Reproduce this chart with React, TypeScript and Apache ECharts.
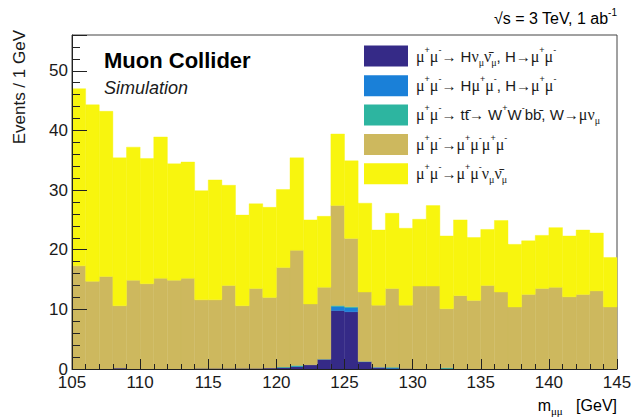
import React, { useEffect, useRef } from "react";
import * as echarts from "echarts";

// Lower edges of the 1 GeV bins
const BIN_LOW = [
  105, 106, 107, 108, 109, 110, 111, 112, 113, 114,
  115, 116, 117, 118, 119, 120, 121, 122, 123, 124,
  125, 126, 127, 128, 129, 130, 131, 132, 133, 134,
  135, 136, 137, 138, 139, 140, 141, 142, 143, 144,
];
const BIN_WIDTH = 1;

// mu+mu- -> H nu nu, H -> mu mu
const HVV = [
  0, 0, 0, 0.15, 0, 0, 0, 0, 0, 0.1,
  0.1, 0.1, 0.1, 0.1, 0.15, 0.25, 0.4, 0.7, 1.6, 9.8,
  9.6, 1.2, 0.2, 0.1, 0.05, 0, 0, 0.05, 0, 0,
  0, 0, 0, 0, 0, 0, 0, 0, 0, 0,
];
// mu+mu- -> H mu mu, H -> mu mu
const HMUMU = [
  0, 0, 0, 0, 0, 0, 0, 0, 0, 0,
  0, 0, 0, 0, 0, 0, 0.05, 0, 0.05, 0.7,
  0.7, 0.05, 0.1, 0.1, 0, 0, 0, 0, 0, 0,
  0, 0, 0, 0, 0, 0, 0, 0, 0, 0,
];
// mu+mu- -> ttbar
const TTBAR = [
  0, 0, 0, 0, 0, 0, 0, 0, 0, 0,
  0, 0, 0, 0, 0, 0.1, 0.15, 0, 0, 0.15,
  0.15, 0, 0, 0.1, 0, 0, 0, 0.15, 0, 0,
  0, 0, 0, 0, 0, 0, 0, 0, 0, 0,
];
// mu+mu- -> 4 mu
const MU4 = [
  17.3, 14.7, 15.5, 10.45, 14.9, 14.3, 15.2, 14.9, 15.2, 11.5,
  11.5, 13.9, 10.5, 13.4, 11.85, 16.65, 19.3, 10.2, 12.05, 16.75,
  11.45, 11.65, 10.4, 13.2, 10.65, 13.9, 13.9, 9.9, 12.3, 11.5,
  14.0, 12.9, 10.4, 12.5, 13.5, 13.7, 12.1, 12.5, 13.1, 10.4,
];
// mu+mu- -> mu mu nu nu
const MUMUNUNU = [
  29.7, 29.6, 27.7, 24.8, 22.3, 21.0, 23.7, 19.5, 19.5, 18.3,
  20.1, 16.8, 15.2, 14.2, 15.1, 13.1, 15.5, 14.1, 11.9, 12.0,
  13.0, 14.9, 12.6, 12.6, 12.9, 11.2, 13.5, 12.2, 12.7, 10.55,
  9.4, 12.0, 10.5, 9.0, 8.9, 10.0, 10.2, 10.8, 9.7, 8.3,
];

const SERIES_KEYS = ["hvv", "hmumu", "ttbar", "mu4", "mumununu"];
const SERIES_VALUES = [HVV, HMUMU, TTBAR, MU4, MUMUNUNU];
const SERIES_COLORS = ["#352a87", "#1a80d8", "#2db5a0", "#cdb85e", "#f8f50e"];
const LEGEND_LABELS = [
  "μ^+μ^-→ Hν_μν\u0304_μ, H→μ^+μ^-",
  "μ^+μ^-→ Hμ^+μ^-, H→μ^+μ^-",
  "μ^+μ^-→ tt\u0304→ W^+W^-bb\u0304, W→μν_μ",
  "μ^+μ^-→μ^+μ^-μ^+μ^-",
  "μ^+μ^-→μ^+μ^-ν_μν\u0304_μ",
];

const SANS = '"Liberation Sans", Arial, Helvetica, sans-serif';
const SERIF = '"Liberation Serif", "Times New Roman", serif';
const TEXT = "#1a1a1a";

const isGreek = (c: string) => c === "μ" || c === "ν";

function toRich(s: string): string {
  const chars = Array.from(s);
  let out = "";
  for (let i = 0; i < chars.length; i++) {
    const c = chars[i];
    if (c === "^" || c === "_") {
      const nxt = chars[++i];
      const base = c === "^" ? "p" : "b";
      out += `{${base}${isGreek(nxt) ? "g" : ""}|${nxt}}`;
      continue;
    }
    if (isGreek(c)) {
      let g = c;
      if (chars[i + 1] === "\u0304") g += chars[++i];
      out += `{g|${g}}`;
      continue;
    }
    out += `{n|${c}}`;
  }
  return out;
}

const RICH: any = {
  n: { fontFamily: SANS, fontSize: 15, color: TEXT, lineHeight: 22 },
  g: { fontFamily: SERIF, fontSize: 16, color: TEXT, lineHeight: 22 },
  p: { fontFamily: SANS, fontSize: 9, color: TEXT, lineHeight: 18, verticalAlign: "top" },
  pg: { fontFamily: SERIF, fontSize: 10, color: TEXT, lineHeight: 18, verticalAlign: "top" },
  b: { fontFamily: SANS, fontSize: 9, color: TEXT, lineHeight: 10, verticalAlign: "bottom" },
  bg: { fontFamily: SERIF, fontSize: 10, color: TEXT, lineHeight: 10, verticalAlign: "bottom" },
};

const RICH_TITLE: any = {
  n: { fontFamily: SANS, fontSize: 16, color: TEXT, lineHeight: 22 },
  g: { fontFamily: SERIF, fontSize: 17, color: TEXT, lineHeight: 22 },
  p: { fontFamily: SANS, fontSize: 10, color: TEXT, lineHeight: 14, verticalAlign: "top" },
  bg: { fontFamily: SERIF, fontSize: 11, color: TEXT, lineHeight: 10, verticalAlign: "bottom" },
};

export default function App() {
  const ref = useRef<HTMLDivElement>(null);

  useEffect(() => {
    document.body.style.margin = "0";
    if (!ref.current) return;
    const chart = echarts.init(ref.current, undefined, { renderer: "svg" });

    // running stack base per bin
    const base = BIN_LOW.map(() => 0);
    const series = SERIES_KEYS.map((key, si) => {
      const color = SERIES_COLORS[si];
      const data = SERIES_VALUES[si].map((v, i) => {
        const lo = base[i];
        const hi = lo + v;
        base[i] = hi;
        return [BIN_LOW[i], BIN_LOW[i] + BIN_WIDTH, lo, hi];
      });
      return {
        name: key,
        type: "custom",
        itemStyle: { color },
        emphasis: { disabled: true },
        encode: { x: [0, 1], y: [2, 3] },
        renderItem: (params: any, api: any) => {
          const lo = api.value(2);
          const hi = api.value(3);
          if (!(hi > lo)) return null;
          const p0 = api.coord([api.value(0), hi]);
          const p1 = api.coord([api.value(1), lo]);
          return {
            type: "rect",
            shape: { x: p0[0], y: p0[1], width: p1[0] - p0[0], height: p1[1] - p0[1] },
            style: { fill: color, stroke: color, lineWidth: 0.4 },
          };
        },
        data,
      };
    });

    chart.setOption({
      animation: false,
      backgroundColor: "#ffffff",
      grid: {
        left: 72,
        right: 18,
        top: 35,
        bottom: 48,
        show: true,
        borderColor: "#444",
        borderWidth: 1,
        backgroundColor: "transparent",
        containLabel: false,
      },
      xAxis: {
        type: "value",
        min: 105,
        max: 145,
        interval: 5,
        z: 10,
        axisLine: { show: true, onZero: false, lineStyle: { color: "#222", width: 1 } },
        axisTick: { show: true, inside: true, length: 10, lineStyle: { color: "#222" } },
        minorTick: { show: true, splitNumber: 5, length: 5, lineStyle: { color: "#222" } },
        splitLine: { show: false },
        minorSplitLine: { show: false },
        axisLabel: { color: TEXT, fontFamily: SANS, fontSize: 17, margin: 5 },
      },
      yAxis: {
        type: "value",
        min: 0,
        max: 56,
        interval: 10,
        z: 10,
        axisLine: { show: true, lineStyle: { color: "#222", width: 1 } },
        axisTick: { show: true, inside: true, length: 15, lineStyle: { color: "#222" } },
        minorTick: { show: true, splitNumber: 5, length: 8, lineStyle: { color: "#222" } },
        splitLine: { show: false },
        minorSplitLine: { show: false },
        axisLabel: {
          color: TEXT,
          fontFamily: SANS,
          fontSize: 17,
          margin: 4,
          showMaxLabel: false,
        },
      },
      legend: {
        data: SERIES_KEYS,
        orient: "vertical",
        left: 364,
        top: 45,
        itemWidth: 44,
        itemHeight: 21,
        itemGap: 7.7,
        icon: "rect",
        selectedMode: false,
        padding: 0,
        formatter: (name: string) => toRich(LEGEND_LABELS[SERIES_KEYS.indexOf(name)]),
        textStyle: { rich: RICH, padding: [0, 0, 0, 3] },
      },
      graphic: [
        {
          type: "text",
          x: 104,
          y: 60,
          style: {
            text: "Muon Collider",
            font: `bold 22px ${SANS}`,
            fill: "#000",
            align: "left",
            verticalAlign: "middle",
          },
        },
        {
          type: "text",
          x: 104,
          y: 88,
          style: {
            text: "Simulation",
            font: `italic 18px ${SANS}`,
            fill: TEXT,
            align: "left",
            verticalAlign: "middle",
          },
        },
        {
          type: "text",
          x: 617,
          y: 18,
          style: {
            text: "{n|√s = 3 TeV, 1 ab}{p|-1}",
            rich: RICH_TITLE,
            align: "right",
            verticalAlign: "middle",
          },
        },
        {
          type: "text",
          x: 617,
          y: 405,
          style: {
            text: "{n|m}{bg|μμ}{n|   [GeV]}",
            rich: RICH_TITLE,
            align: "right",
            verticalAlign: "middle",
          },
        },
        {
          type: "text",
          x: 19,
          y: 30,
          rotation: Math.PI / 2,
          style: {
            text: "Events / 1 GeV",
            font: `17px ${SANS}`,
            fill: TEXT,
            align: "right",
            verticalAlign: "middle",
          },
        },
      ],
      series,
    });

    return () => chart.dispose();
  }, []);

  return <div ref={ref} style={{ width: 635, height: 417 }} />;
}
